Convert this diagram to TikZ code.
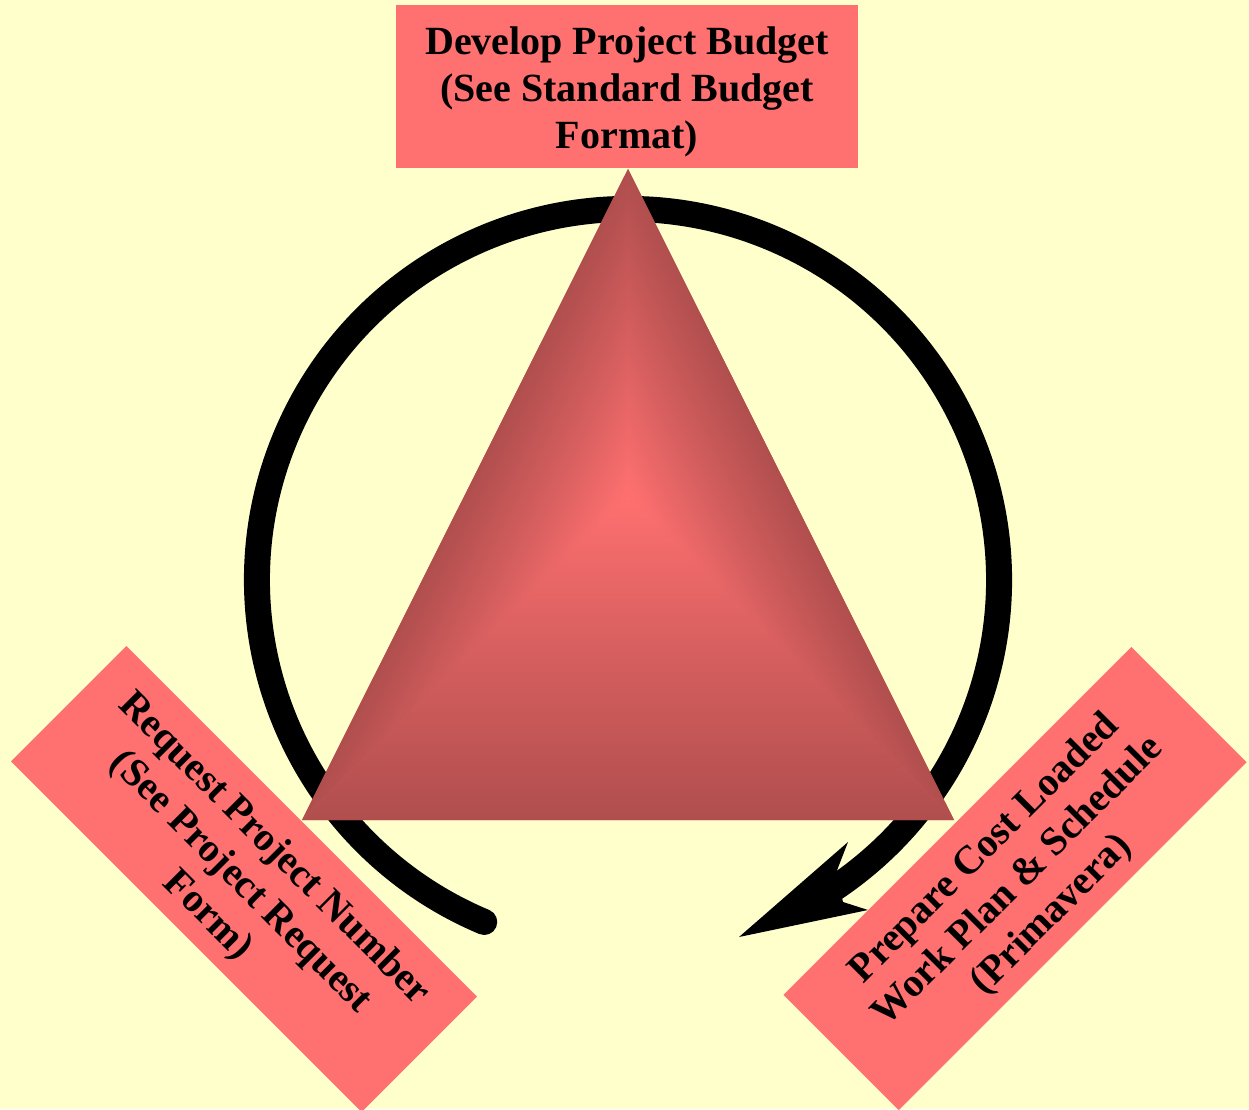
\documentclass[tikz,border=0pt]{standalone}
\usepackage{fontspec}
\setmainfont{Liberation Serif}
\definecolor{bgyellow}{HTML}{FFFFCC}
\definecolor{boxred}{HTML}{FF7070}
\definecolor{triedge}{HTML}{B04E4E}
\definecolor{tricenter}{HTML}{FF7070}
\newcommand{\toppad}{\rule{0pt}{38pt}}
\tikzset{
  stepbox/.style={fill=boxred, inner sep=0pt, align=center, text=black,
    font=\fontsize{40}{47}\selectfont\bfseries},
  cyclearrow/.style={line width=26pt, line cap=round, draw=black},
  faceshade/.style={bottom color=triedge, top color=tricenter, middle color=triedge!53!tricenter}
}
\begin{document}
\begin{tikzpicture}[x=1pt,y=1pt]
\path[use as bounding box, fill=bgyellow] (0,0) rectangle (1249,1109);

% geometry
\coordinate (O) at (628,529);
\coordinate (A) at (628,940);
\coordinate (L) at (302,289);
\coordinate (R) at (954,289);
\coordinate (C) at (628,615);

% cycle arrow
\draw[cyclearrow] ([shift={(247.2:371pt)}]O) coordinate (arcstart)
   arc[start angle=247.2, end angle=-57.5, radius=371pt] coordinate (arcend);
\coordinate (tip) at (739,172);
\coordinate (barbA) at (848,267);
\coordinate (notchA) at (836,236);
\coordinate (notchB) at (843,207);
\coordinate (barbB) at (868,199);
\fill[black] (tip) -- (barbA) -- (notchA) -- (notchB) -- (barbB) -- cycle;

% shaded triangle (three bevelled faces)
\fill[triedge!40!tricenter] (A) -- (L) -- (R) -- cycle;
\begin{scope}
  \clip (C) -- (L) -- (R) -- cycle;
  \shade[faceshade] (302,289) rectangle (954,615);
\end{scope}
\begin{scope}
  \clip (C) -- (A) -- (L) -- cycle;
  \begin{scope}[transform canvas={shift={(628,940)}, rotate=243.40}]
    \shade[faceshade] (-10,0) rectangle (740,145.5);
  \end{scope}
\end{scope}
\begin{scope}
  \clip (C) -- (A) -- (R) -- cycle;
  \begin{scope}[transform canvas={shift={(954,289)}, rotate=116.60}]
    \shade[faceshade] (-10,0) rectangle (740,145.5);
  \end{scope}
\end{scope}

% boxes
\node[stepbox, minimum width=462pt, minimum height=163pt] (budget) at (627,1022.5)
  {\toppad Develop Project Budget\\(See Standard Budget\\Format)};
\node[stepbox, minimum width=496pt, minimum height=163pt, rotate=-45] (request) at (244,230)
  {\toppad Request Project Number\\(See Project Request\\Form)};
\node[stepbox, minimum width=492pt, minimum height=163pt, rotate=45] (prepare) at (1015,230.5)
  {\toppad Prepare Cost Loaded\\Work Plan \& Schedule\\(Primavera)};
\end{tikzpicture}
\end{document}
